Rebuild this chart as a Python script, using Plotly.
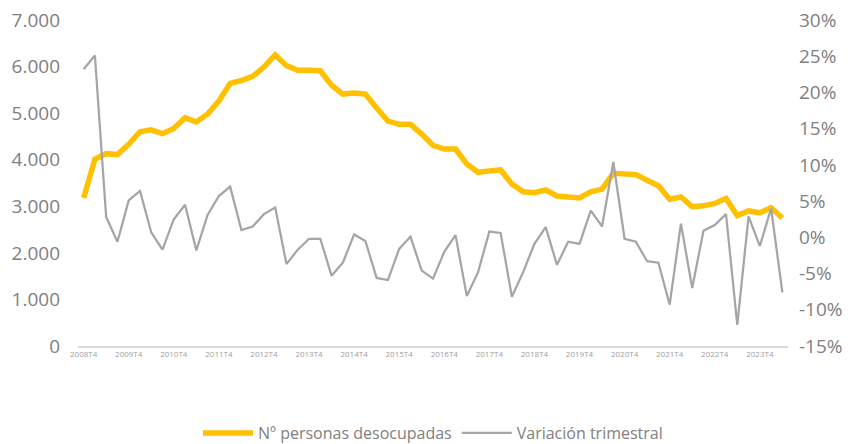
import plotly.graph_objects as go

quarters = [f"{y}T{q}" for y in range(2008, 2025) for q in range(1, 5)]
quarters = quarters[quarters.index("2008T4"):quarters.index("2024T2") + 1]

desocupados = [3180, 4010, 4130, 4110, 4330, 4600, 4640, 4560, 4670, 4900,
               4810, 4980, 5260, 5640, 5700, 5790, 5990, 6250, 6020, 5920,
               5920, 5910, 5600, 5410, 5430, 5410, 5110, 4830, 4760, 4760,
               4550, 4310, 4230, 4230, 3910, 3730, 3760, 3780, 3480, 3310,
               3290, 3350, 3220, 3200, 3180, 3310, 3370, 3710, 3700, 3680,
               3560, 3440, 3150, 3200, 2990, 3010, 3060, 3170, 2800, 2900,
               2860, 2970, 2750]

variacion = [23.2, 25.1, 2.8, -0.6, 5.1, 6.4, 0.7, -1.7, 2.5, 4.5,
             -1.8, 3.1, 5.7, 7.0, 1.0, 1.5, 3.2, 4.1, -3.7, -1.7,
             -0.2, -0.2, -5.3, -3.5, 0.4, -0.5, -5.6, -5.9, -1.6, 0.1,
             -4.6, -5.7, -2.0, 0.3, -8.1, -4.8, 0.8, 0.6, -8.2, -4.8,
             -0.9, 1.4, -3.8, -0.6, -0.9, 3.7, 1.5, 10.4, -0.2, -0.6,
             -3.3, -3.5, -9.3, 1.9, -7.0, 0.9, 1.7, 3.2, -12.1, 2.9,
             -1.2, 4.0, -7.6]

x_ticks = [q for q in quarters if q.endswith("T4")]
left_ticks = list(range(0, 7001, 1000))
right_ticks = list(range(-15, 31, 5))

font_family = "Open Sans"
grey_text = "#808080"

fig = go.Figure()
fig.add_trace(go.Scatter(
    x=quarters, y=desocupados, name="Nº personas desocupadas",
    mode="lines", line=dict(color="#FFC000", width=5.5), yaxis="y"))
fig.add_trace(go.Scatter(
    x=quarters, y=variacion, name="Variación trimestral",
    mode="lines", line=dict(color="#A5A5A5", width=2.25), yaxis="y2"))

# the page body adds an 8px offset, so the figure is sized to the visible area
fig.update_layout(
    width=849, height=436,
    margin=dict(l=70, r=69, t=12, b=98, autoexpand=False),
    paper_bgcolor="white", plot_bgcolor="white",
    separators=",.",
    font=dict(family=font_family, color=grey_text),
    showlegend=True,
    legend=dict(orientation="h", x=0.5, xanchor="center", y=-0.267,
                yanchor="middle", font=dict(size=16, color=grey_text),
                itemwidth=50, tracegroupgap=0),
    xaxis=dict(type="category", range=[-0.5, len(quarters) - 0.5],
               tickmode="array", tickvals=x_ticks, ticktext=x_ticks,
               tickangle=0, tickfont=dict(size=8, color="#A0A0A0"),
               showgrid=False, zeroline=False, showline=True,
               linecolor="#D9D9D9", linewidth=1.5, ticks="",
               automargin=False, ticklabeloverflow="allow"),
    yaxis=dict(range=[0, 7000], tickmode="array", tickvals=left_ticks,
               ticktext=[f"{v:,}".replace(",", ".") for v in left_ticks],
               tickfont=dict(size=19, color=grey_text),
               showgrid=False, zeroline=False, showline=False, ticks="",
               ticklabelstandoff=17, automargin=False,
               ticklabeloverflow="allow"),
    yaxis2=dict(range=[-15, 30], overlaying="y", side="right",
                tickmode="array", tickvals=right_ticks,
                ticktext=[f"{v}%" for v in right_ticks],
                tickfont=dict(size=19, color=grey_text),
                showgrid=False, zeroline=False, showline=False, ticks="",
                ticklabelstandoff=10, automargin=False,
                ticklabeloverflow="allow"),
)

fig.write_html("out.html")
